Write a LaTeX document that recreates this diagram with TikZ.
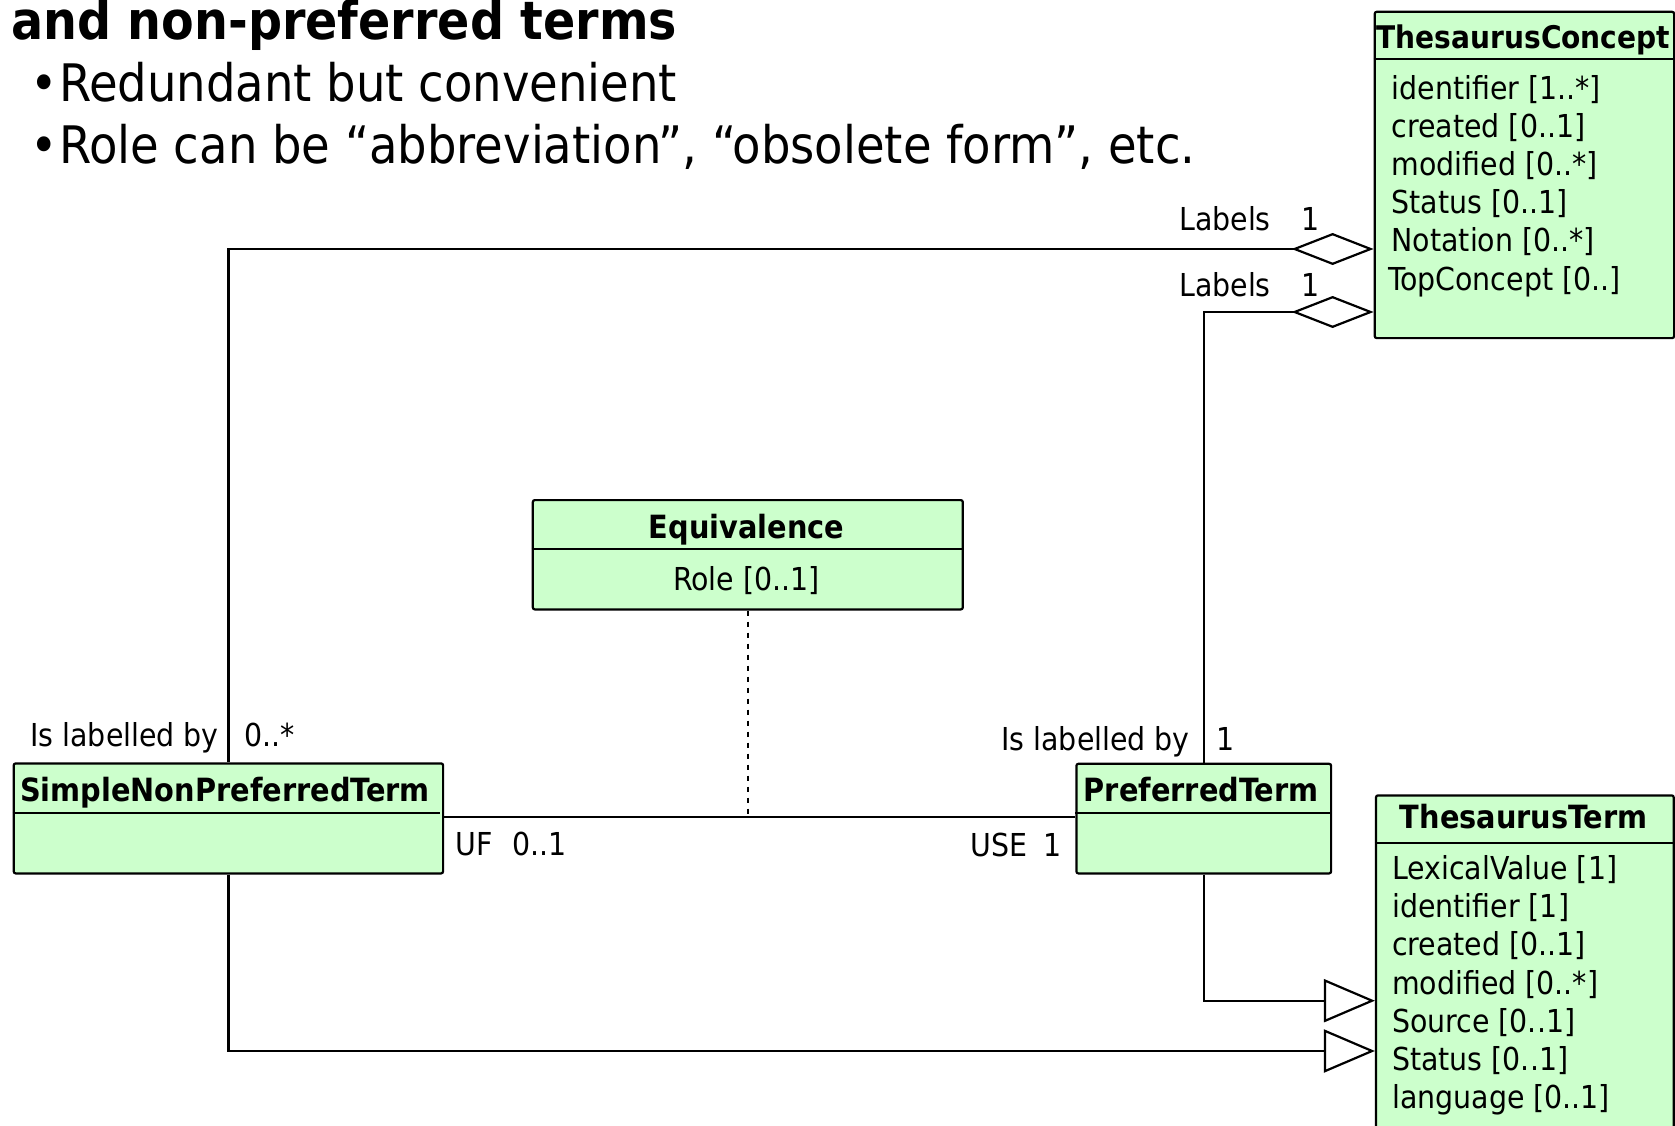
\documentclass[tikz,border=0pt]{standalone}
\usepackage{fontspec}
\IfFontExistsTF{DejaVu Sans Condensed}
  {\setmainfont{DejaVu Sans Condensed}}
  {\setmainfont{DejaVu Sans}[FakeStretch=0.9]}
\usetikzlibrary{arrows.meta}

\definecolor{classfill}{HTML}{CCFFCC}
\newcommand\diagfont{\fontsize{31.6}{37}\selectfont}
\newcommand\diagbold{\fontsize{32}{37}\selectfont\bfseries}
\newcommand\slidefont{\fontsize{51.7}{60}\selectfont}

\tikzset{
  classbox/.style={draw=black, fill=classfill, line width=2.2pt,
    rounded corners=2pt, inner sep=0pt, anchor=north west},
  divider/.style={line width=2.2pt},
  conn/.style={line width=2.2pt},
  agg/.style={conn, -{Diamond[length=82pt, width=32pt, fill=white]}},
  gen/.style={conn, -{Triangle[length=51pt, width=43pt, fill=white]}},
  assocline/.style={line width=2.6pt, dash pattern=on 5pt off 6pt},
  lbl/.style={inner sep=0pt, font=\diagfont},
  ttl/.style={inner sep=0pt, font=\diagbold, anchor=base},
  attr/.style={inner sep=0pt, font=\diagfont, anchor=base west},
  slide/.style={inner sep=0pt, anchor=base west, font=\slidefont},
}

\begin{document}
\begin{tikzpicture}[x=1pt, y=-1pt]
\useasboundingbox (0,0) rectangle (1675,1126);
\clip (0,0) rectangle (1675,1126);

% slide text
\node[inner sep=0pt, anchor=base west, font=\fontsize{52.9}{60}\selectfont\bfseries]
  (heading) at (11,40) {and non-preferred terms};
\node[slide] (dotA) at (30,102) {•};
\node[slide] (pointA) at (59,102) {Redundant but convenient};
\node[slide] (dotB) at (30,164) {•};
\node[slide] (pointB) at (59,164) {Role can be “abbreviation”, “obsolete form”, etc.};

% class boxes
\node[classbox, minimum width=299.4pt, minimum height=326.3pt] (tc) at (1373.6,10.7) {};
\node[classbox, minimum width=297.7pt, minimum height=360pt]   (tt) at (1374.9,794.3) {};
\node[classbox, minimum width=254.7pt, minimum height=109.6pt] (pt) at (1075.3,762.7) {};
\node[classbox, minimum width=429.4pt, minimum height=110pt]   (snpt) at (12.6,762.3) {};
\node[classbox, minimum width=430pt,   minimum height=109.3pt] (eq) at (531.7,499) {};

% compartment dividers
\draw[divider] ([yshift=-48.3pt]tc.north west) -- ([yshift=-48.3pt]tc.north east);
\draw[divider] ([yshift=-48.4pt]tt.north west) -- ([yshift=-48.4pt]tt.north east);
\draw[divider] ([yshift=-50pt]pt.north west) -- ([yshift=-50pt]pt.north east);
\draw[divider] ([yshift=-51pt]snpt.north west) -- ([yshift=-51pt,xshift=-4pt]snpt.north east);
\draw[divider] ([yshift=-50.3pt]eq.north west) -- ([yshift=-50.3pt]eq.north east);

% class names
\node[ttl, font=\fontsize{31.2}{37}\selectfont\bfseries] (tcname) at (1523.3,48.3) {ThesaurusConcept};
\node[ttl] (ttname) at (1523.7,828.3) {ThesaurusTerm};
\node[ttl] (ptname) at (1201,801.7) {PreferredTerm};
\node[ttl] (snptname) at (225,801.7) {SimpleNonPreferredTerm};
\node[ttl] (eqname) at (746.5,538.3) {Equivalence};

% attributes
\node[lbl, anchor=base] (eqrole) at (746.5,590) {Role [0..1]};

\node[attr] (tcA) at (1391.5,99.5)  {identifier [1..*]};
\node[attr] (tcB) at (1391.5,137.6) {created [0..1]};
\node[attr] (tcC) at (1391.5,175.7) {modified [0..*]};
\node[attr] (tcD) at (1391.5,213.8) {Status [0..1]};
\node[attr] (tcE) at (1391.5,251.9) {Notation [0..*]};
\node[attr] (tcF) at (1388,290)     {TopConcept [0..]};

\node[attr] (ttA) at (1392,879.5)  {LexicalValue [1]};
\node[attr] (ttB) at (1392,917.7)  {identifier [1]};
\node[attr] (ttC) at (1392,955.8)  {created [0..1]};
\node[attr] (ttD) at (1392,994)    {modified [0..*]};
\node[attr] (ttE) at (1392,1032.1) {Source [0..1]};
\node[attr] (ttF) at (1392,1070.3) {Status [0..1]};
\node[attr] (ttG) at (1392,1108.4) {language [0..1]};

% aggregations to ThesaurusConcept
\draw[agg] (snpt.north) |- ([yshift=-238.3pt]tc.north west);
\draw[agg] (pt.north) |- ([yshift=-301.3pt]tc.north west);

% generalizations to ThesaurusTerm
\draw[gen] (pt.south) |- ([yshift=-206.4pt]tt.north west);
\draw[gen] (snpt.south) |- ([yshift=-256.7pt]tt.north west);

% UF / USE association with its association class
\draw[conn] ([yshift=-55pt]snpt.north east) coordinate (ufend) -- (ufend -| pt.west);
\draw[assocline] (eq.south) -- (eq.south |- ufend);

% role names and multiplicities
\node[lbl, anchor=base east] (labA) at (1271,230.5) {Labels};
\node[lbl, anchor=base west] (mulA) at (1301,230.5) {1};
\node[lbl, anchor=base east] (labB) at (1271,296.5) {Labels};
\node[lbl, anchor=base west] (mulB) at (1301,296.5) {1};

\node[lbl, anchor=base east] (isA) at (219,746) {Is labelled by};
\node[lbl, anchor=base west] (mulC) at (244,746) {0..*};
\node[lbl, anchor=base east] (isB) at (1190,750) {Is labelled by};
\node[lbl, anchor=base west] (mulD) at (1216,750) {1};

\node[lbl, anchor=base west] (uf) at (455,855.5) {UF};
\node[lbl, anchor=base west] (mulE) at (512,855.5) {0..1};
\node[lbl, anchor=base west] (use) at (970,856.5) {USE};
\node[lbl, anchor=base east] (mulF) at (1062,856.5) {1};
\end{tikzpicture}
\end{document}
